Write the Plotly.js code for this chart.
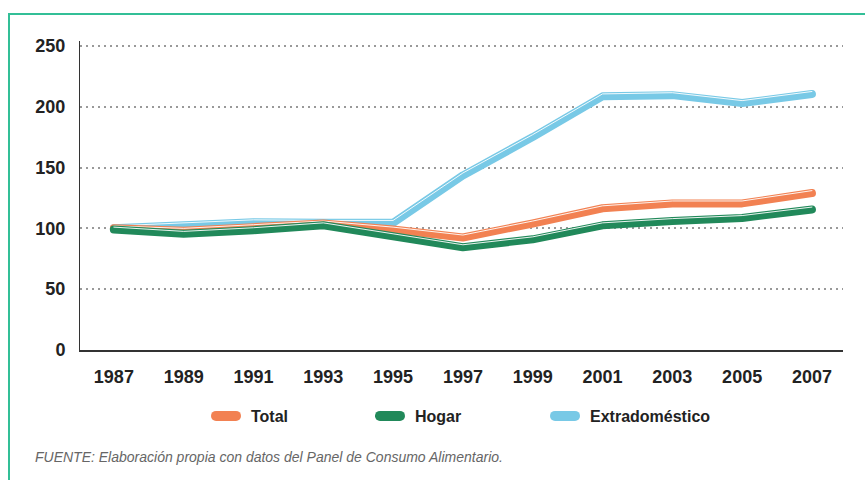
<!DOCTYPE html>
<html>
<head>
<meta charset="utf-8">
<script src="https://cdn.plot.ly/plotly-3.0.1.min.js"></script>
<style>
  html, body { margin: 0; padding: 0; background: #fff; }
  #wrap { position: relative; width: 865px; height: 480px; overflow: hidden; }
  #frame { position: absolute; left: 8px; top: 13px; width: 900px; height: 520px;
           border-left: 2px solid #33BF97; border-top: 2px solid #33BF97; pointer-events: none; z-index: 2; }
  #chart { position: absolute; left: 0; top: 0; width: 865px; height: 480px; }
  .scatterlayer .js-line { stroke-linecap: round; stroke-linejoin: round; }
  .legendlines path { stroke-linecap: round !important; stroke-width: 10px !important;
                      stroke-dasharray: 20px 200px !important; stroke-dashoffset: 0 !important; }
</style>
</head>
<body>
<div id="wrap">
  <div id="chart"></div>
  <div id="frame"></div>
</div>
<script>
// ---- data ----
const years = [1987, 1989, 1991, 1993, 1995, 1997, 1999, 2001, 2003, 2005, 2007];
const yearLabels = ["1987", "1989", "1991", "1993", "1995", "1997", "1999", "2001", "2003", "2005", "2007"];
const total = [100, 98, 101, 104, 99, 92.5, 104, 116.5, 120.5, 120.5, 129];
const hogar = [99, 95.5, 98.5, 102.5, 93.5, 84.5, 91, 102.5, 106, 108.5, 115.5];
const extradomestico = [100, 102.5, 105, 104.5, 104.5, 143.5, 175, 208.5, 209.5, 203, 210.5];
const seriesNames = ["Total", "Hogar", "Extradoméstico"];
const yTicks = [0, 50, 100, 150, 200, 250];

// ---- style ----
const colors = { total: "#F28152", hogar: "#21895A", extra: "#78C9E6" };
const lineW = 8;
const hlShift = 2.0; // highlight offset in data units (~2.4px)

function mainTrace(y, name, color, legendId) {
  return { x: years, y: y, name: name, type: "scatter", mode: "lines",
           line: { color: color, width: lineW }, legend: legendId, hoverinfo: "x+y+name" };
}
function hlTrace(y) {
  return { x: years, y: y.map(v => v + hlShift), type: "scatter", mode: "lines",
           line: { color: "rgba(255,255,255,0.9)", width: 1 }, showlegend: false, hoverinfo: "skip" };
}

const data = [
  mainTrace(extradomestico, seriesNames[2], colors.extra, "legend3"),
  hlTrace(extradomestico),
  mainTrace(total, seriesNames[0], colors.total, "legend"),
  hlTrace(total),
  mainTrace(hogar, seriesNames[1], colors.hogar, "legend2"),
  hlTrace(hogar)
];

const legFont = { family: "Liberation Sans, Arial, sans-serif", size: 16, color: "#222", weight: 700 };
function leg(x) {
  return { orientation: "h", x: x, y: -0.2136, xanchor: "left", yanchor: "middle",
           font: legFont, bgcolor: "rgba(0,0,0,0)", borderwidth: 0 };
}

const layout = {
  width: 865, height: 480,
  margin: { l: 80, r: 22, t: 41, b: 130 },
  paper_bgcolor: "#fff", plot_bgcolor: "#fff",
  xaxis: {
    range: [1986.03, 2007.89], tickvals: years, ticktext: yearLabels,
    showgrid: false, zeroline: false, showline: true, linecolor: "#333", linewidth: 2,
    ticks: "", ticklabelstandoff: 9,
    tickfont: { family: "Liberation Sans, Arial, sans-serif", size: 18, color: "#222", weight: 700 }
  },
  yaxis: {
    range: [0, 254], tickvals: yTicks, ticktext: yTicks.map(String),
    showgrid: true, gridcolor: "#999999", gridwidth: 2, griddash: "2px,4px",
    zeroline: false, showline: true, linecolor: "#333", linewidth: 1,
    ticks: "", ticklabelstandoff: 10,
    tickfont: { family: "Liberation Sans, Arial, sans-serif", size: 18, color: "#222", weight: 700 }
  },
  legend: leg(0.1717),
  legend2: leg(0.3866),
  legend3: leg(0.616),
  annotations: [{
    xref: "paper", yref: "paper", x: -0.0616, y: -0.346, xanchor: "left", yanchor: "middle",
    showarrow: false, text: "<i>FUENTE: Elaboración propia con datos del Panel de Consumo Alimentario.</i>",
    font: { family: "Liberation Sans, Arial, sans-serif", size: 14, color: "#666" }
  }],
  showlegend: true
};

Plotly.newPlot("chart", data, layout, { displayModeBar: false, staticPlot: true });
</script>
</body>
</html>
